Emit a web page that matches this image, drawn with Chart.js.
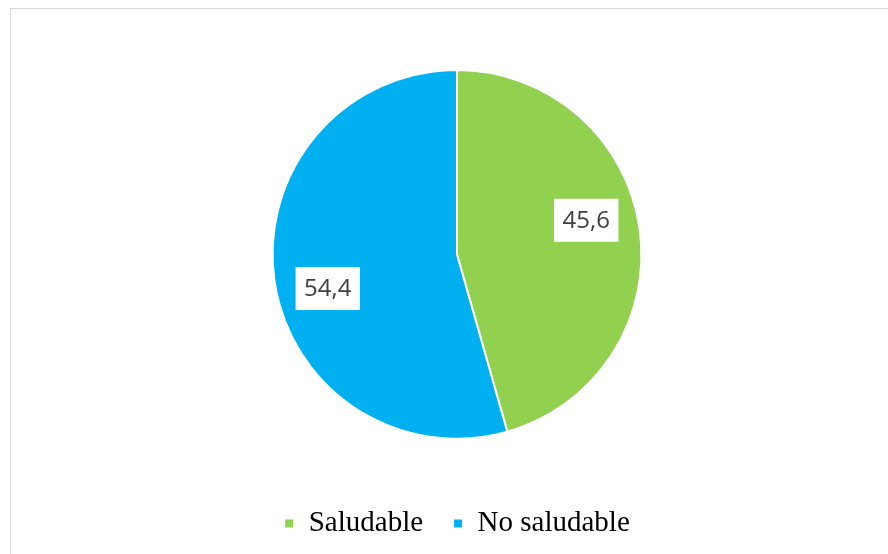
<!DOCTYPE html>
<html>
<head>
<meta charset="utf-8">
<script src="https://cdn.jsdelivr.net/npm/chart.js@4.4.0/dist/chart.umd.min.js"></script>
<style>
    html, body { margin: 0; padding: 0; background: #fff; overflow: hidden; }
    #frame {
        position: absolute; left: 10px; top: 8px;
        width: 900px; height: 560px;
        border: 1px solid #d9d9d9;
    }
    #wrap { position: absolute; left: 11px; top: 9px; width: 892px; height: 545px; }
</style>
</head>
<body>
<div id="frame"></div>
<div id="wrap"><canvas id="pie"></canvas></div>
<script>
    var categories = ['Saludable', 'No saludable'];
    var values = [45.6, 54.4];
    var colors = ['#92D050', '#00B0F0'];

    // white boxed value labels inside each slice
    var boxLabels = {
        id: 'boxLabels',
        afterDatasetsDraw: function(chart) {
            var ctx = chart.ctx;
            var meta = chart.getDatasetMeta(0);
            ctx.save();
            ctx.font = '24px "Open Sans", sans-serif';
            ctx.textAlign = 'center';
            ctx.textBaseline = 'middle';
            meta.data.forEach(function(arc, i) {
                var mid = (arc.startAngle + arc.endAngle) / 2 - 0.12;
                var r = arc.outerRadius * 0.725;
                var x = arc.x + Math.cos(mid) * r;
                var y = arc.y + Math.sin(mid) * r;
                var text = values[i].toFixed(1).replace('.', ',');
                var w = ctx.measureText(text).width + 17;
                var h = 43;
                ctx.fillStyle = '#fff';
                ctx.fillRect(x - w / 2, y - h / 2, w, h);
                ctx.fillStyle = '#404040';
                ctx.fillText(text, x, y + 1);
            });
            ctx.restore();
        }
    };

    new Chart(document.getElementById('pie'), {
        type: 'pie',
        data: {
            labels: categories,
            datasets: [{
                data: values,
                backgroundColor: colors,
                borderColor: '#fff',
                borderWidth: 2
            }]
        },
        options: {
            responsive: true,
            maintainAspectRatio: false,
            animation: false,
            layout: { padding: { top: 60, bottom: 6 } },
            plugins: {
                tooltip: { enabled: false },
                legend: {
                    position: 'bottom',
                    title: {
                        display: true,
                        text: '',
                        font: { size: 1 },
                        padding: { top: 38, bottom: 0 }
                    },
                    labels: {
                        boxWidth: 10,
                        boxHeight: 10,
                        padding: 30,
                        color: '#000',
                        font: { family: '"Liberation Serif", "Times New Roman", serif', size: 29 }
                    }
                }
            }
        },
        plugins: [boxLabels]
    });
</script>
</body>
</html>
